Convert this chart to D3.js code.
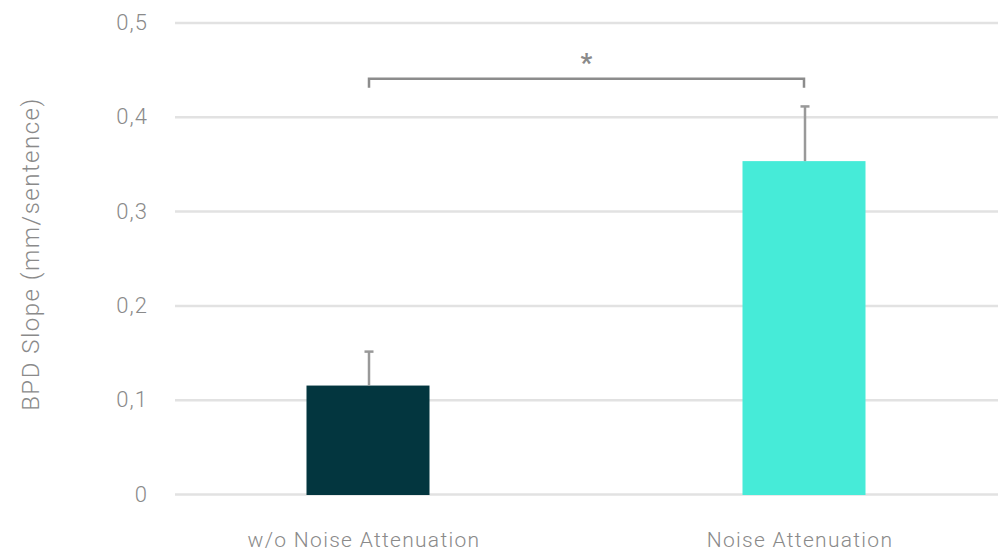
<!DOCTYPE html>
<html>
<head>
<meta charset="utf-8">
<script src="https://cdn.jsdelivr.net/npm/d3@7"></script>
<style>
  html, body { margin: 0; padding: 0; background: #fff; }
  svg { display: block; }
  text { font-family: Roboto, "Open Sans", sans-serif; font-weight: 300; fill: #8a8a8a; }
</style>
</head>
<body>
<svg id="chart" width="998" height="556"></svg>
<script>
// Mean BPD slope per condition, with the upper error value
const categories = ["w/o Noise Attenuation", "Noise Attenuation"];
const means = [0.115, 0.353];
const errorTops = [0.151, 0.411];
const barColors = ["#03363f", "#46ebd8"];
const yTicks = [0, 0.1, 0.2, 0.3, 0.4, 0.5];
const yTickLabels = ["0", "0,1", "0,2", "0,3", "0,4", "0,5"];
const yTitle = "BPD Slope (mm/sentence)";
const significance = { from: 0, to: 1, label: "*", level: 0.45 };

const svg = d3.select("#chart");
const plotLeft = 175, plotRight = 998;

const y = d3.scaleLinear().domain([0, 0.5]).range([494, 22.5]);
const x = d3.scalePoint().domain(categories).range([368, 804]);
const barWidth = 123;

// Horizontal gridlines with tick labels
const yAxis = d3.axisLeft(y)
  .tickValues(yTicks)
  .tickFormat((d, i) => yTickLabels[i])
  .tickSize(-(plotRight - plotLeft))
  .tickPadding(27);

const gy = svg.append("g")
  .attr("transform", `translate(${plotLeft},0)`)
  .call(yAxis);
gy.select(".domain").remove();
gy.selectAll(".tick line").attr("stroke", "#e2e2e2").attr("stroke-width", 2.5);
gy.selectAll(".tick text")
  .attr("font-size", 22)
  .attr("letter-spacing", 1)
  .attr("fill", "#8a8a8a")
  .style("font-family", "Roboto, sans-serif");

// Bars
svg.append("g").selectAll("rect")
  .data(categories)
  .join("rect")
  .attr("x", d => x(d) - barWidth / 2)
  .attr("width", barWidth)
  .attr("y", (d, i) => y(means[i]))
  .attr("height", (d, i) => y(0) - y(means[i]) + 1)
  .attr("fill", (d, i) => barColors[i]);

// Upper error bars
const err = svg.append("g").attr("stroke", "#999").attr("stroke-width", 2.5);
categories.forEach((c, i) => {
  const cx = x(c) + 1;
  err.append("line").attr("x1", cx).attr("x2", cx)
    .attr("y1", y(means[i])).attr("y2", y(errorTops[i]));
  err.append("line").attr("x1", cx - 4.5).attr("x2", cx + 4.5)
    .attr("y1", y(errorTops[i])).attr("y2", y(errorTops[i]));
});

// Significance bracket
const bx1 = x(categories[significance.from]) + 1;
const bx2 = x(categories[significance.to]);
const by = y(significance.level) + 9;
svg.append("path")
  .attr("d", `M${bx1},${by + 9}V${by}H${bx2}V${by + 9}`)
  .attr("fill", "none")
  .attr("stroke", "#8c8c8c")
  .attr("stroke-width", 2.5);
svg.append("text")
  .attr("x", (bx1 + bx2) / 2)
  .attr("y", by - 7)
  .attr("text-anchor", "middle")
  .attr("font-size", 26)
  .style("font-weight", 700)
  .attr("fill", "#8c8c8c")
  .text(significance.label);

// Category labels
svg.append("g").selectAll("text")
  .data(categories)
  .join("text")
  .attr("x", d => x(d) - 4)
  .attr("y", 547)
  .attr("text-anchor", "middle")
  .attr("font-size", 21)
  .attr("letter-spacing", 1.3)
  .text(d => d);

// Y-axis title
svg.append("text")
  .attr("transform", `translate(39,254) rotate(-90)`)
  .attr("text-anchor", "middle")
  .attr("font-size", 24)
  .attr("letter-spacing", 1.5)
  .text(yTitle);
</script>
</body>
</html>
